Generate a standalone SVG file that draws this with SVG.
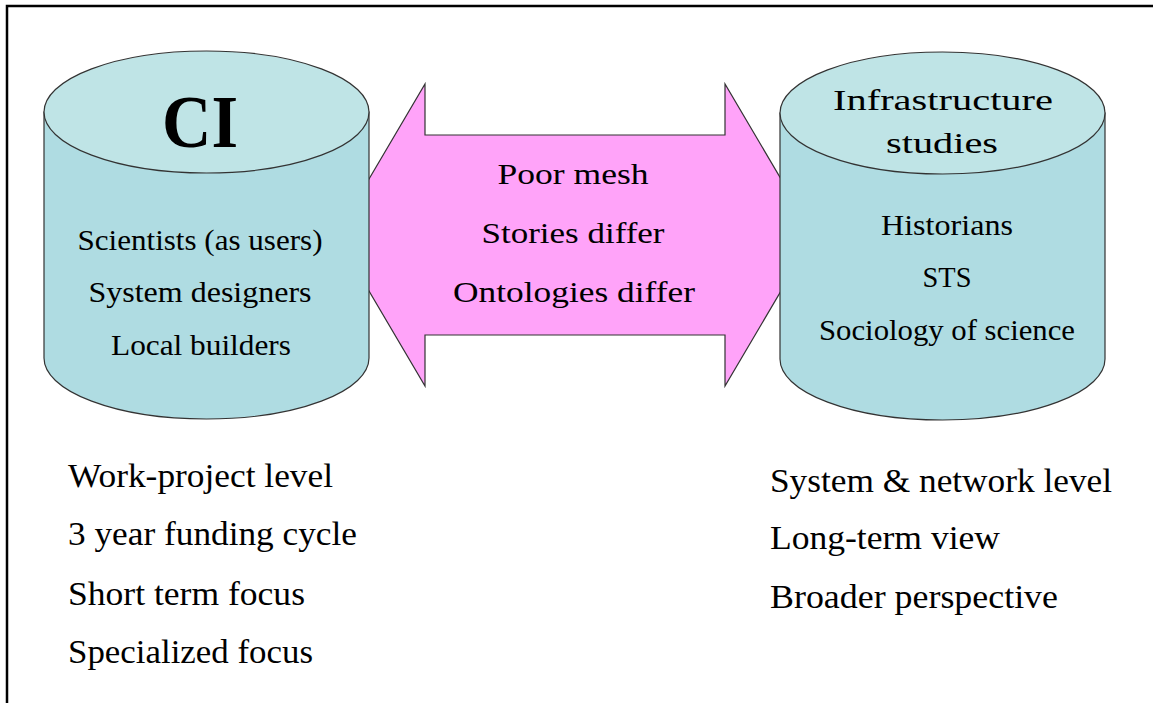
<svg xmlns="http://www.w3.org/2000/svg" width="1153" height="703" viewBox="0 0 1153 703">
<style>
.t{font-family:"Liberation Serif","DejaVu Serif",serif;fill:#000;}
.c{font-size:30px;text-anchor:middle;}
.b{font-size:34px;}
.body{fill:#afdce2;stroke:#333;stroke-width:1.2;}
.top{fill:#bfe4e6;stroke:#333;stroke-width:1.2;}
</style>
<rect width="1153" height="703" fill="#fff"/>
<path d="M7,703 L7,6 L1153,6" fill="none" stroke="#000" stroke-width="2.5"/>
<g id="connectors">
<polygon points="336,235 425,84 425,135 725,135 725,84 814,235 725,386 725,335 425,335 425,386" fill="#ffa3f9" stroke="#333" stroke-width="1.2"/>
<text class="t c" x="573" y="184" textLength="151" lengthAdjust="spacingAndGlyphs">Poor mesh</text>
<text class="t c" x="573" y="243" textLength="183" lengthAdjust="spacingAndGlyphs">Stories differ</text>
<text class="t c" x="574" y="302" textLength="242" lengthAdjust="spacingAndGlyphs">Ontologies differ</text>
</g>
<g id="ci">
<path class="body" d="M44,112 L44,358 A162.5,61 0 0 0 369,358 L369,112 Z"/>
<ellipse class="top" cx="206.5" cy="112" rx="162.5" ry="61"/>
<text class="t" x="200" y="147" font-size="74" font-weight="bold" text-anchor="middle" textLength="76" lengthAdjust="spacingAndGlyphs">CI</text>
<text class="t c" x="200" y="250" textLength="245" lengthAdjust="spacingAndGlyphs">Scientists (as users)</text>
<text class="t c" x="200" y="302" textLength="223" lengthAdjust="spacingAndGlyphs">System designers</text>
<text class="t c" x="201" y="355" textLength="180" lengthAdjust="spacingAndGlyphs">Local builders</text>
</g>
<g id="infra">
<path class="body" d="M780,113 L780,359 A162.5,61 0 0 0 1105,359 L1105,113 Z"/>
<ellipse class="top" cx="942.5" cy="113" rx="162.5" ry="61"/>
<text class="t c" x="943" y="110" font-size="35" textLength="220" lengthAdjust="spacingAndGlyphs">Infrastructure</text>
<text class="t c" x="942" y="153" font-size="35" textLength="112" lengthAdjust="spacingAndGlyphs">studies</text>
<text class="t c" x="947" y="235" textLength="132" lengthAdjust="spacingAndGlyphs">Historians</text>
<text class="t c" x="947" y="287" textLength="49" lengthAdjust="spacingAndGlyphs">STS</text>
<text class="t c" x="947" y="340" textLength="256" lengthAdjust="spacingAndGlyphs">Sociology of science</text>
</g>
<g id="ci-notes">
<text class="t b" x="68" y="487" textLength="265" lengthAdjust="spacingAndGlyphs">Work-project level</text>
<text class="t b" x="68" y="545" textLength="289" lengthAdjust="spacingAndGlyphs">3 year funding cycle</text>
<text class="t b" x="68" y="605" textLength="237" lengthAdjust="spacingAndGlyphs">Short term focus</text>
<text class="t b" x="68" y="663" textLength="245" lengthAdjust="spacingAndGlyphs">Specialized focus</text>
</g>
<g id="infra-notes">
<text class="t b" x="770" y="492" textLength="342" lengthAdjust="spacingAndGlyphs">System &amp; network level</text>
<text class="t b" x="770" y="549" textLength="230" lengthAdjust="spacingAndGlyphs">Long-term view</text>
<text class="t b" x="770" y="608" textLength="288" lengthAdjust="spacingAndGlyphs">Broader perspective</text>
</g>
</svg>
